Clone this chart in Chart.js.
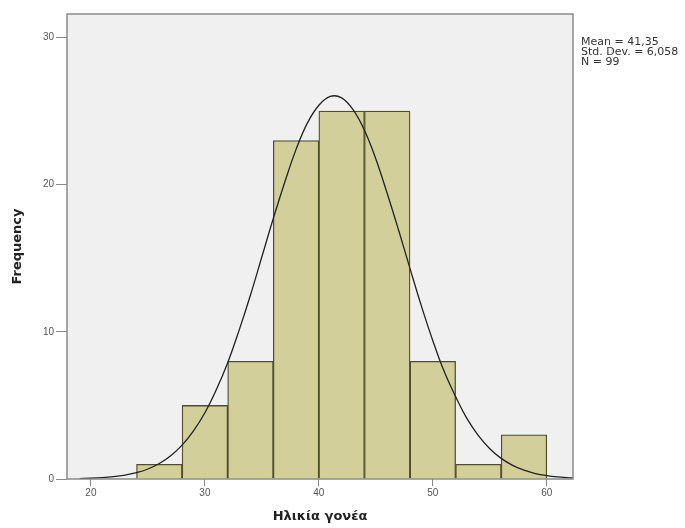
<!DOCTYPE html>
<html>
<head>
<meta charset="utf-8">
<script src="https://cdn.jsdelivr.net/npm/chart.js@4"></script>
<style>
  html, body { margin: 0; padding: 0; background: #fff; }
  #wrap { width: 685px; height: 528px; position: relative; }
  .stats { position: absolute; left: 581px; top: 37px; font: 10px "DejaVu Sans", sans-serif; color: #333; line-height: 10px; transform: scaleX(1.1); transform-origin: left top; white-space: nowrap; }
</style>
</head>
<body>
<div id="wrap">
  <canvas id="chart" width="685" height="528"></canvas>
  <div class="stats">Mean = 41,35<br>Std. Dev. = 6,058<br>N = 99</div>
</div>
<script>
// histogram bins (centre of each 4-year bin) and counts
const binCentres = [26, 30, 34, 38, 42, 46, 50, 54, 58];
const binCounts = [1, 5, 8, 23, 25, 25, 8, 1, 3];

// normal curve
const curveX = [19, 20, 21, 22, 23, 24, 25, 26, 27, 28, 29, 30, 31, 32, 33, 34, 35, 36, 37, 38, 39, 40, 41, 42,
                43, 44, 45, 46, 47, 48, 49, 50, 51, 52, 53, 54, 55, 56, 57, 58, 59, 60, 61, 62, 63];
const curveY = [0.03, 0.05, 0.09, 0.16, 0.27, 0.43, 0.68, 1.05, 1.58, 2.3, 3.27, 4.5, 6.06, 7.9, 10.1, 12.5, 15.1, 17.7, 20.15, 22.4, 24.2, 25.4, 26.0, 25.9,
                25.1, 23.7, 21.75, 19.4, 16.9, 14.3, 11.75, 9.4, 7.3, 5.6, 4.1, 2.95, 2.06, 1.4, 0.93, 0.6, 0.37, 0.23, 0.14, 0.08, 0.045];

const xTicks = [20, 30, 40, 50, 60];
const yTicks = [0, 10, 20, 30];

const plotFrame = {
    id: "plotFrame",
    beforeDraw(chart) {
        const a = chart.chartArea, c = chart.ctx;
        c.save();
        c.fillStyle = "#f0f0f0";
        c.fillRect(a.left, a.top, a.right - a.left, a.bottom - a.top);
        c.restore();
    },
    afterDraw(chart) {
        const a = chart.chartArea, c = chart.ctx;
        c.save();
        c.strokeStyle = "#8a8a8a";
        c.lineWidth = 1.5;
        c.strokeRect(a.left, a.top, a.right - a.left, a.bottom - a.top);
        c.restore();
    }
};

const tickFont = { family: "Liberation Sans", size: 10 };
const titleFont = { family: "DejaVu Sans", size: 13, weight: "bold" };

new Chart(document.getElementById("chart"), {
    data: {
        datasets: [{
            type: "line",
            data: curveX.map((x, i) => ({ x: x, y: curveY[i] })),
            borderColor: "#222",
            borderWidth: 1.3,
            pointRadius: 0,
            tension: 0.4,
            order: 0
        }, {
            type: "bar",
            data: binCentres.map((x, i) => ({ x: x, y: binCounts[i] })),
            backgroundColor: "#d3cf9a",
            borderColor: "#4f4f2a",
            borderWidth: 1.3,
            barPercentage: 1,
            categoryPercentage: 1,
            order: 1
        }]
    },
    options: {
        responsive: false,
        animation: false,
        layout: { padding: { top: 14, right: 112, left: 0, bottom: 0 } },
        plugins: { legend: { display: false }, tooltip: { enabled: false } },
        scales: {
            x: {
                type: "linear",
                offset: false,
                min: 17.9,
                max: 62.3,
                afterBuildTicks: s => { s.ticks = xTicks.map(v => ({ value: v })); },
                afterFit: s => { s.height = 49; },
                grid: { offset: false, drawOnChartArea: false, drawTicks: true, tickLength: 7, color: "#8a8a8a" },
                border: { display: false },
                ticks: { color: "#555", font: tickFont, padding: 1 },
                title: { display: true, text: "Ηλικία γονέα", color: "#222", font: titleFont, padding: { top: 5 } }
            },
            y: {
                min: 0,
                max: 31.6,
                afterBuildTicks: s => { s.ticks = yTicks.map(v => ({ value: v })); },
                afterFit: s => { s.width = 67; },
                grid: { drawOnChartArea: false, drawTicks: true, tickLength: 11, color: "#8a8a8a" },
                border: { display: false },
                ticks: { color: "#555", font: tickFont, padding: 2 },
                title: { display: true, text: "Frequency", color: "#222", font: titleFont, padding: { top: 10, bottom: 6 } }
            }
        }
    },
    plugins: [plotFrame]
});
</script>
</body>
</html>
